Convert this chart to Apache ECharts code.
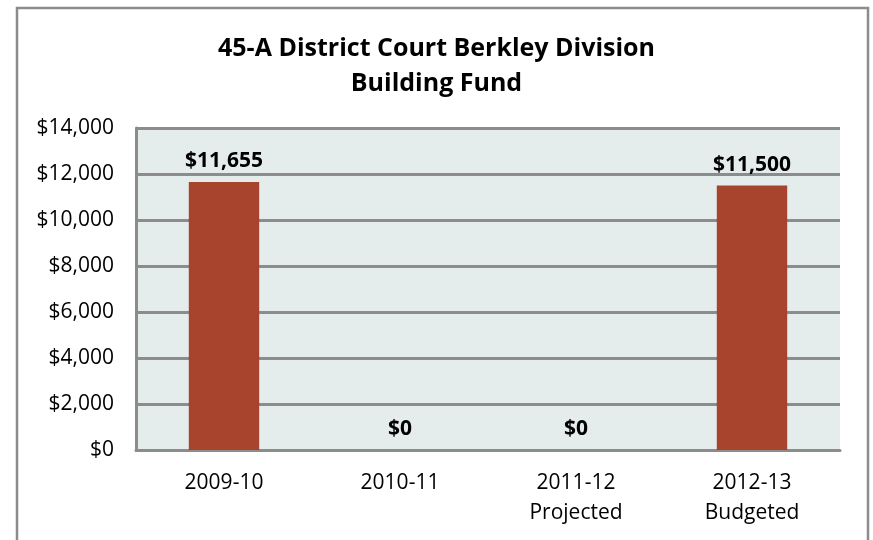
<!DOCTYPE html>
<html>
<head>
<meta charset="utf-8">
<script src="https://cdn.jsdelivr.net/npm/echarts@6/dist/echarts.min.js"></script>
<style>
html,body{margin:0;padding:0;background:#fff;}
#chart{width:873px;height:540px;}
</style>
</head>
<body>
<div id="chart"></div>
<script>
const titleLines = ['45-A District Court Berkley Division', 'Building Fund'];
const categories = ['2009-10', '2010-11', '2011-12\nProjected', '2012-13\nBudgeted'];
const values = [11655, 0, 0, 11500];
const yTicks = { min: 0, max: 14000, interval: 2000 };

const fmt = v => '$' + v.toLocaleString('en-US');
const FONT = '"Open Sans", "Liberation Sans", sans-serif';

const chart = echarts.init(document.getElementById('chart'));
chart.setOption({
  animation: false,
  backgroundColor: '#ffffff',
  graphic: [{
    type: 'rect',
    shape: { x: 17, y: 8, width: 851, height: 560 },
    style: { fill: 'none', stroke: '#8c8c8c', lineWidth: 2.5 },
    silent: true
  }],
  title: {
    text: titleLines.join('\n'),
    left: 'center',
    top: 26,
    textStyle: { fontFamily: FONT, fontWeight: 'bold', fontSize: 25, lineHeight: 35, color: '#000' }
  },
  grid: { left: 136, right: 33, top: 128, bottom: 90, show: true, backgroundColor: '#e4edec', borderWidth: 0 },
  xAxis: {
    type: 'category',
    data: categories,
    axisLine: { show: true, lineStyle: { color: '#8c8c8c', width: 3 } },
    axisTick: { show: false },
    axisLabel: { fontFamily: FONT, fontSize: 21, color: '#000', lineHeight: 30, margin: 18 }
  },
  yAxis: {
    type: 'value',
    min: yTicks.min, max: yTicks.max, interval: yTicks.interval,
    axisLine: { show: true, lineStyle: { color: '#8c8c8c', width: 3 } },
    axisTick: { show: false },
    splitLine: { show: true, lineStyle: { color: '#8c8c8c', width: 3 } },
    axisLabel: { fontFamily: FONT, fontSize: 21, color: '#000', margin: 22, formatter: fmt }
  },
  series: [{
    type: 'bar',
    data: values,
    barWidth: '40%',
    itemStyle: { color: '#a8432d' },
    label: {
      show: true, position: 'top', distance: 10,
      fontFamily: FONT, fontWeight: 'bold', fontSize: 21, color: '#000',
      formatter: p => fmt(p.value)
    }
  }]
});
</script>
</body>
</html>
